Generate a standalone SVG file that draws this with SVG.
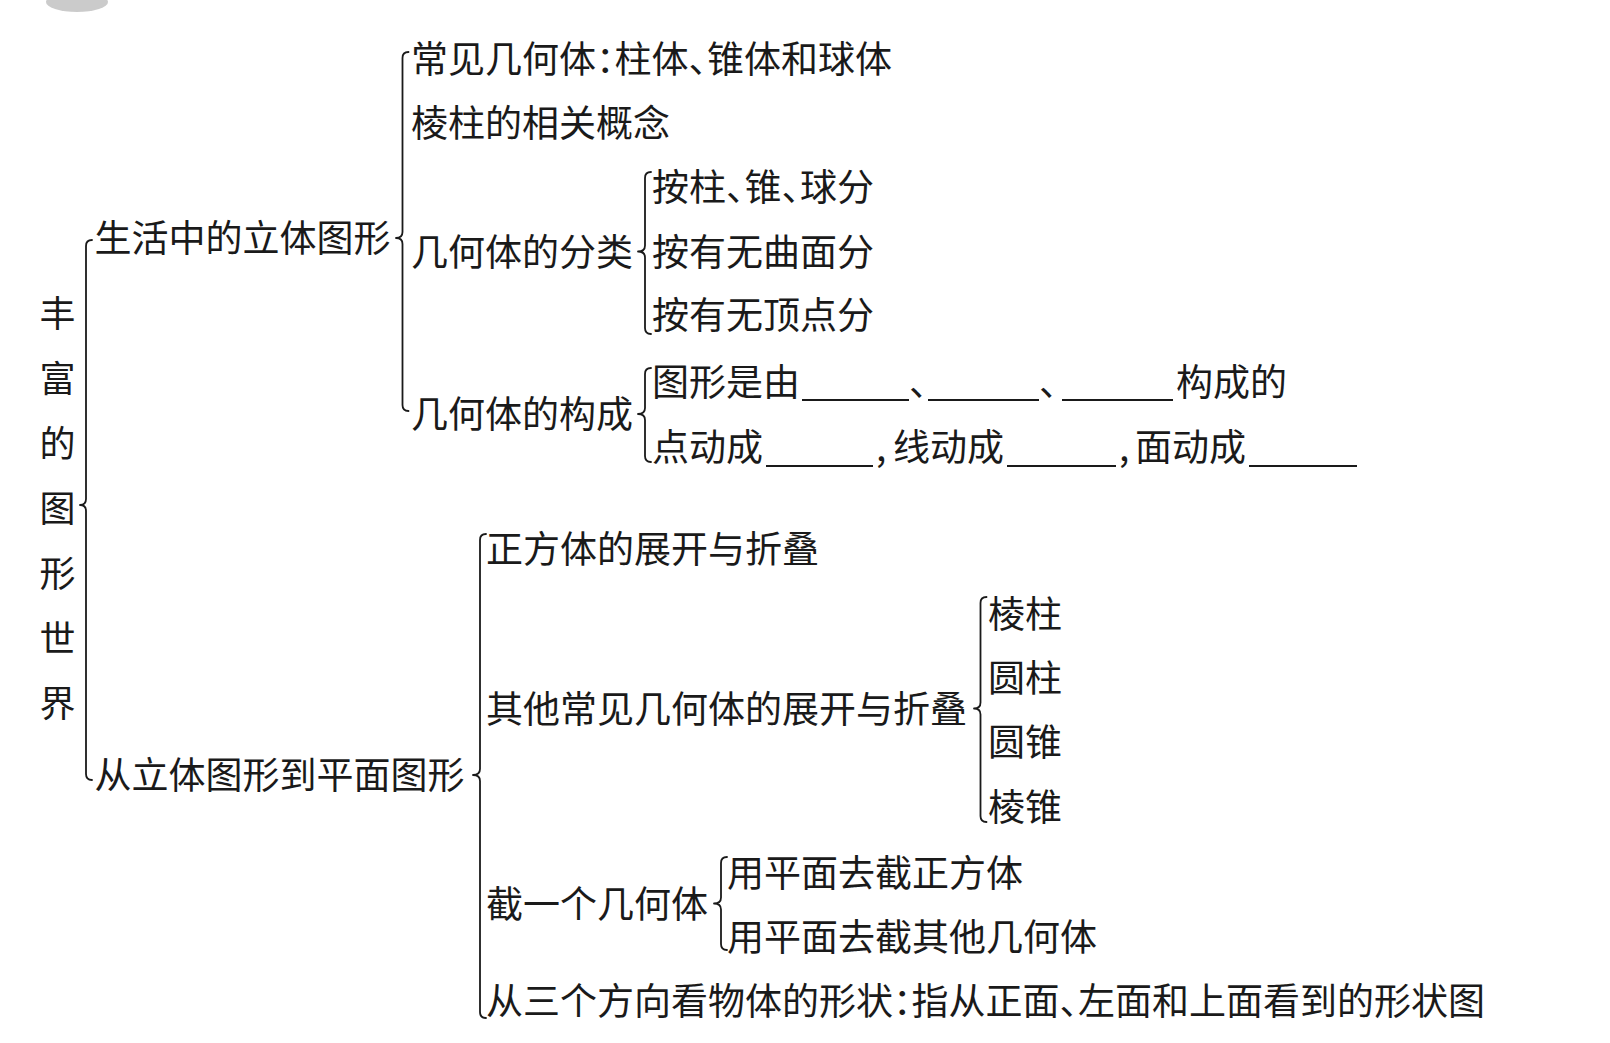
<svg xmlns="http://www.w3.org/2000/svg" width="1610" height="1043" viewBox="0 0 1610 1043">
<style>
text{font-family:"Noto Sans CJK SC","Noto Sans",sans-serif;font-size:37px;fill:#1a1a1a;font-feature-settings:"halt" 1}
.title{font-size:36px;text-anchor:middle}
.brace{fill:none;stroke:#1a1a1a;stroke-width:1.8;stroke-linejoin:round;stroke-linecap:round}
.blank{stroke:#1a1a1a;stroke-width:1.8}
</style>
<rect width="1610" height="1043" fill="#ffffff"/>
<ellipse cx="77" cy="2" rx="31" ry="10" fill="#b5b5b5" opacity="0.7"/>
<g id="connectors">
<path class="brace" d="M92 240 Q86 240 86 246 L86 499 Q86 505 80 505 Q86 505 86 511 L86 774 Q86 780 92 780"/>
<path class="brace" d="M408.5 52 Q402.5 52 402.5 58 L402.5 232 Q402.5 238 396 238 Q402.5 238 402.5 244 L402.5 405 Q402.5 411 408.5 411"/>
<path class="brace" d="M651 172 Q645 172 645 178 L645 245.5 Q645 251.5 638 251.5 Q645 251.5 645 257.5 L645 328 Q645 334 651 334"/>
<path class="brace" d="M651 368 Q645 368 645 374 L645 408 Q645 414 638 414 Q645 414 645 420 L645 456 Q645 462 651 462"/>
<path class="brace" d="M486 534 Q480 534 480 540 L480 769 Q480 775 473 775 Q480 775 480 781 L480 1012 Q480 1018 486 1018"/>
<path class="brace" d="M986.5 597 Q980.5 597 980.5 603 L980.5 702.5 Q980.5 708.5 974 708.5 Q980.5 708.5 980.5 714.5 L980.5 816 Q980.5 822 986.5 822"/>
<path class="brace" d="M727 857 Q721 857 721 863 L721 897.5 Q721 903.5 714 903.5 Q721 903.5 721 909.5 L721 944 Q721 950 727 950"/>
</g>
<g id="root">
<text class="title" x="57.5" y="326.5">丰</text>
<text class="title" x="57.5" y="391.5">富</text>
<text class="title" x="57.5" y="456.5">的</text>
<text class="title" x="57.5" y="521.5">图</text>
<text class="title" x="57.5" y="586.5">形</text>
<text class="title" x="57.5" y="651.5">世</text>
<text class="title" x="57.5" y="716.5">界</text>
</g>
<g id="n-shenghuo"><text x="94.5" y="252">生活中的立体图形</text></g>
<g id="n-changjian"><text x="411" y="72.5">常见几何体：柱体、锥体和球体</text></g>
<g id="n-lengzhu"><text x="411" y="137">棱柱的相关概念</text></g>
<g id="n-fenlei"><text x="411" y="265.5">几何体的分类</text></g>
<g id="n-fenlei-1"><text x="652" y="201">按柱、锥、球分</text></g>
<g id="n-fenlei-2"><text x="652" y="265.5">按有无曲面分</text></g>
<g id="n-fenlei-3"><text x="652" y="329">按有无顶点分</text></g>
<g id="n-goucheng"><text x="411" y="428">几何体的构成</text></g>
<g id="n-goucheng-1">
<text x="652" y="396">图形是由</text>
<text x="909" y="396">、</text>
<text x="1039" y="396">、</text>
<text x="1176" y="396">构成的</text>
<line class="blank" x1="802" y1="400" x2="909" y2="400"/>
<line class="blank" x1="928" y1="400" x2="1039" y2="400"/>
<line class="blank" x1="1062" y1="400" x2="1173" y2="400"/>
</g>
<g id="n-goucheng-2">
<text x="652" y="461">点动成</text>
<text x="876" y="461">,</text>
<text x="893" y="461">线动成</text>
<text x="1119" y="461">,</text>
<text x="1135" y="461">面动成</text>
<line class="blank" x1="766" y1="466" x2="873" y2="466"/>
<line class="blank" x1="1007" y1="466" x2="1116" y2="466"/>
<line class="blank" x1="1249" y1="466" x2="1357" y2="466"/>
</g>
<g id="n-congliti"><text x="94.5" y="789">从立体图形到平面图形</text></g>
<g id="n-zhengfangti"><text x="486" y="563">正方体的展开与折叠</text></g>
<g id="n-qita"><text x="486" y="722.5">其他常见几何体的展开与折叠</text></g>
<g id="n-qita-1"><text x="988" y="628">棱柱</text></g>
<g id="n-qita-2"><text x="988" y="692">圆柱</text></g>
<g id="n-qita-3"><text x="988" y="756">圆锥</text></g>
<g id="n-qita-4"><text x="988" y="821">棱锥</text></g>
<g id="n-jie"><text x="486" y="917.5">截一个几何体</text></g>
<g id="n-jie-1"><text x="727" y="887">用平面去截正方体</text></g>
<g id="n-jie-2"><text x="727" y="950.5">用平面去截其他几何体</text></g>
<g id="n-sange"><text x="486" y="1015">从三个方向看物体的形状：指从正面、左面和上面看到的形状图</text></g>
</svg>
